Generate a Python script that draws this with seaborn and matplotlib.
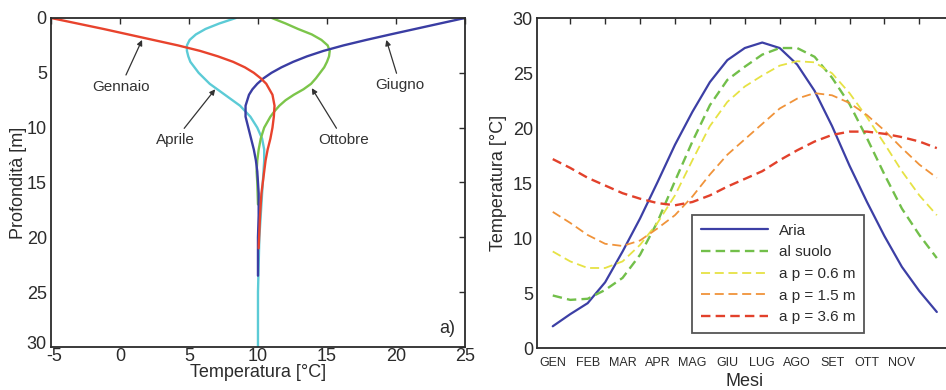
import matplotlib
matplotlib.use("Agg")
import matplotlib.pyplot as plt
import matplotlib.transforms as mtransforms
import seaborn as sns
import pandas as pd

# --- a) profili di temperatura nel terreno (profondita [m] -> temperatura [C])
gen_prof = [0, 0.5, 1, 1.5, 2, 2.5, 3, 3.5, 4, 4.5, 5, 5.5, 6, 7, 8, 9, 10, 11, 12, 13, 14, 16, 18, 21]
gen_temp = [-5.0, -3.1, -1.2, 0.6, 2.4, 4.2, 5.8, 7.1, 8.2, 9.05, 9.7, 10.2, 10.6, 11.05, 11.2, 11.15,
            11.05, 10.9, 10.7, 10.55, 10.45, 10.25, 10.15, 10.05]

apr_prof = [0, 0.5, 1, 1.5, 2, 2.5, 3, 3.5, 4, 5, 6, 7, 8, 9, 10, 11, 12, 13, 14, 16, 18, 20, 25, 30]
apr_temp = [8.4, 7.2, 6.2, 5.5, 5.05, 4.85, 4.85, 4.95, 5.1, 5.7, 6.5, 7.6, 8.7, 9.45, 9.95, 10.3,
            10.45, 10.45, 10.4, 10.3, 10.2, 10.1, 10.0, 10.0]

giu_prof = [0, 0.5, 1, 1.5, 2, 2.5, 3, 3.5, 4, 4.5, 5, 5.5, 6, 6.5, 7, 8, 9, 10, 11, 12, 13, 14, 16,
            18, 20, 23.5]
giu_temp = [25.0, 23.2, 21.4, 19.6, 17.85, 16.2, 14.75, 13.55, 12.55, 11.7, 10.98, 10.4, 9.95, 9.6,
            9.35, 9.1, 9.1, 9.3, 9.5, 9.7, 9.85, 9.95, 10.05, 10.05, 10.0, 10.0]

ott_prof = [0, 0.5, 1, 1.5, 2, 2.5, 3, 3.5, 4, 4.5, 5, 5.5, 6, 6.5, 7, 7.5, 8, 8.5, 9, 10, 11, 12, 13,
            14, 15, 17]
ott_temp = [11.0, 12.0, 12.9, 13.9, 14.6, 15.05, 15.2, 15.15, 15.0, 14.8, 14.5, 14.2, 13.85, 13.3,
            12.6, 12.0, 11.55, 11.2, 10.9, 10.45, 10.2, 10.05, 9.95, 9.9, 9.95, 10.0]

# --- b) andamento annuale delle temperature
mesi = ["GEN", "FEB", "MAR", "APR", "MAG", "GIU", "LUG", "AGO", "SET", "OTT", "NOV"]
mesi_pos = [0.5, 1.5, 2.5, 3.5, 4.5, 5.5, 6.5, 7.5, 8.5, 9.5, 10.5]
t_mese = [0.5, 1, 1.5, 2, 2.5, 3, 3.5, 4, 4.5, 5, 5.5, 6, 6.5, 7, 7.5, 8, 8.5, 9, 9.5, 10, 10.5, 11, 11.5]
aria = [2.0, 3.1, 4.1, 6.0, 8.8, 11.8, 15.1, 18.5, 21.5, 24.2, 26.2, 27.3, 27.8, 27.3, 25.8, 23.4,
        20.2, 16.6, 13.3, 10.2, 7.4, 5.2, 3.3]
suolo = [4.8, 4.4, 4.5, 5.3, 6.4, 8.5, 11.5, 15.2, 18.8, 22.1, 24.4, 25.6, 26.7, 27.3, 27.3, 26.5,
         24.6, 22.2, 19.1, 15.8, 12.7, 10.3, 8.2]
p06 = [8.8, 7.9, 7.3, 7.3, 7.9, 9.4, 11.4, 13.9, 17.1, 20.2, 22.4, 23.8, 24.8, 25.7, 26.1, 26.0,
       25.0, 23.2, 21.0, 18.6, 16.1, 13.9, 12.1]
p15 = [12.4, 11.4, 10.3, 9.5, 9.3, 9.8, 10.9, 12.1, 13.8, 15.8, 17.6, 19.0, 20.4, 21.8, 22.7, 23.2,
       23.0, 22.3, 21.2, 19.8, 18.2, 16.7, 15.5]
p36 = [17.2, 16.4, 15.5, 14.8, 14.1, 13.6, 13.2, 13.0, 13.3, 13.9, 14.7, 15.4, 16.1, 17.1, 18.0, 18.8,
       19.4, 19.7, 19.7, 19.5, 19.2, 18.8, 18.2]

sns.set_theme(style="white")
plt.rcParams["font.family"] = ["Liberation Sans", "DejaVu Sans"]
plt.rcParams["axes.edgecolor"] = "#2b2b2b"
plt.rcParams["axes.linewidth"] = 1.3
plt.rcParams["axes.unicode_minus"] = False

fig = plt.figure(figsize=(9.46, 3.9), dpi=100)
ax1 = fig.add_axes([0.0539, 0.1103, 0.4376, 0.8436])
ax2 = fig.add_axes([0.5677, 0.107, 0.4392, 0.846])

# profili: l'ordine conta dove le curve si sovrappongono
profili = [
    (apr_prof, apr_temp, "#5ccbd6"),
    (ott_prof, ott_temp, "#7cc54a"),
    (giu_prof, giu_temp, "#3a3da3"),
    (gen_prof, gen_temp, "#e8432d"),
]
for prof, temp, col in profili:
    sns.lineplot(x=temp, y=prof, sort=False, estimator=None, color=col, lw=1.7, ax=ax1)

ax1.set_xlim(-5, 25)
ax1.set_ylim(30, 0)
ax1.set_xticks(range(-5, 26, 5))
ax1.set_yticks(range(0, 31, 5))
ax1.tick_params(direction="in", length=4, width=1, top=True, right=True,
                labelsize=13, colors="#2b2b2b")
ax1.tick_params(axis="x", pad=1)
ax1.tick_params(axis="y", pad=3)
ax1.set_xlabel("Temperatura [°C]", fontsize=13, labelpad=-1, color="#2b2b2b")
ax1.set_ylabel("Profondità [m]", fontsize=13, labelpad=0, color="#2b2b2b")

# "30" e "-5" si toccano nell'angolo: sposto leggermente le due etichette
lab30 = ax1.get_yticklabels()[-1]
lab30.set_transform(lab30.get_transform() + mtransforms.ScaledTranslation(0, 3 / 72, fig.dpi_scale_trans))
lab_m5 = ax1.get_xticklabels()[0]
lab_m5.set_transform(lab_m5.get_transform() + mtransforms.ScaledTranslation(2 / 72, 0, fig.dpi_scale_trans))

arrow = dict(arrowstyle="-|>", color="#333333", lw=0.9, mutation_scale=8, shrinkA=1, shrinkB=0)
ax1.annotate("Gennaio", xy=(1.6, 2.0), xytext=(0.05, 6.25), ha="center", va="center",
             fontsize=11, color="#333333", arrowprops=arrow)
ax1.annotate("Aprile", xy=(6.9, 6.5), xytext=(4.0, 11.1), ha="center", va="center",
             fontsize=11, color="#333333", arrowprops=arrow)
ax1.annotate("Ottobre", xy=(13.9, 6.4), xytext=(16.2, 11.1), ha="center", va="center",
             fontsize=11, color="#333333", arrowprops=arrow)
ax1.annotate("Giugno", xy=(19.3, 2.0), xytext=(20.3, 6.1), ha="center", va="center",
             fontsize=11, color="#333333", arrowprops=arrow)
ax1.text(23.7, 28.3, "a)", fontsize=13, ha="center", va="center", color="#2b2b2b")

# andamento annuale
df = pd.DataFrame({"mese": t_mese, "Aria": aria, "al suolo": suolo,
                   "a p = 0.6 m": p06, "a p = 1.5 m": p15, "a p = 3.6 m": p36})
stili = [
    ("Aria", "#3c3fa5", "-", 1.6),
    ("al suolo", "#72bf4a", (0, (4, 2.2)), 1.7),
    ("a p = 0.6 m", "#e6e244", (0, (5, 2.6)), 1.3),
    ("a p = 1.5 m", "#f0933a", (0, (5, 2.6)), 1.3),
    ("a p = 3.6 m", "#e2412b", (0, (4, 2.2)), 1.7),
]
for nome, col, ls, lw in stili:
    sns.lineplot(data=df, x="mese", y=nome, color=col, ls=ls, lw=lw, label=nome, ax=ax2)

ax2.set_xlim(0.05, 11.95)
ax2.set_ylim(0, 30)
ax2.set_yticks(range(0, 31, 5))
ax2.set_xticks(range(1, 12))
ax2.set_xticklabels([])
ax2.set_xticks(mesi_pos, minor=True)
ax2.set_xticklabels(mesi, minor=True, fontsize=9, color="#2b2b2b")
ax2.tick_params(which="major", direction="in", length=4, width=1, top=True, right=True,
                labelsize=13, colors="#2b2b2b", pad=3)
ax2.tick_params(which="minor", length=0, pad=6)
ax2.set_xlabel("Mesi", fontsize=13, labelpad=3, color="#2b2b2b")
ax2.set_ylabel("Temperatura [°C]", fontsize=13, labelpad=4, color="#2b2b2b")

leg = ax2.legend(loc="lower left", bbox_to_anchor=(0.372, 0.045), borderaxespad=0,
                 fontsize=11, handlelength=4.4, handletextpad=0.7, labelspacing=0.5,
                 borderpad=0.6, frameon=True, fancybox=False)
leg.get_frame().set_edgecolor("#2b2b2b")
leg.get_frame().set_linewidth(1.3)
for t in leg.get_texts():
    t.set_color("#2b2b2b")

fig.savefig("out.png", dpi=100)
